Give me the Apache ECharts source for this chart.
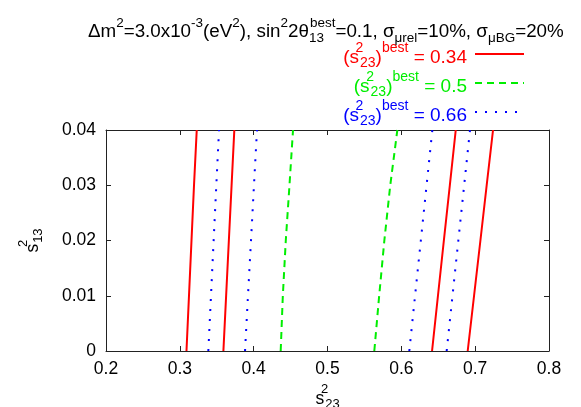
<!DOCTYPE html>
<html><head><meta charset="utf-8">
<script src="https://cdn.jsdelivr.net/npm/echarts@6/dist/echarts.min.js"></script>
<style>html,body{margin:0;padding:0;background:#fff}#c{width:581px;height:407px}</style>
</head><body><div id="c"></div>
<script>
const s13 = [0, 0.01, 0.02, 0.03, 0.04];
const red034a = [0.3090, 0.3124, 0.3158, 0.3192, 0.3229];
const red034b = [0.3590, 0.3627, 0.3664, 0.3701, 0.3738];
const red034c = [0.6416, 0.6496, 0.6576, 0.6657, 0.6737];
const red034d = [0.6899, 0.6985, 0.7071, 0.7156, 0.7242];
const green05a = [0.4366, 0.4395, 0.4435, 0.4485, 0.4533];
const green05b = [0.5634, 0.5700, 0.5770, 0.5850, 0.5946];
const blue066a = [0.3386, 0.3422, 0.3458, 0.3494, 0.3531];
const blue066b = [0.3883, 0.3923, 0.3964, 0.4004, 0.4045];
const blue066c = [0.6108, 0.6186, 0.6264, 0.6342, 0.6420];
const blue066d = [0.6614, 0.6693, 0.6772, 0.6851, 0.6930];
const xTicks = [0.2, 0.3, 0.4, 0.5, 0.6, 0.7, 0.8];
const yTicks = [0, 0.01, 0.02, 0.03, 0.04];
const names = ['0.34', '0.5', '0.66'];

const FONT = '"Liberation Sans", Arial, Helvetica, sans-serif';
const pts = xs => xs.map((x, i) => [x, s13[i]]);
const styles = {
  '0.34': {color: '#ff0000', type: 'solid', width: 2},
  '0.5': {color: '#00ee00', type: [7, 5], width: 2},
  '0.66': {color: '#0000ff', type: [2, 8], width: 2, cap: 'butt'}
};
const mk = (name, xs) => ({
  name, type: 'line', data: pts(xs), showSymbol: false, symbol: 'none',
  lineStyle: styles[name], itemStyle: {color: styles[name].color}, animation: false, z: 3
});
const series = [
  mk('0.34', red034a), mk('0.34', red034b), mk('0.34', red034c), mk('0.34', red034d),
  mk('0.5', green05a), mk('0.5', green05b),
  mk('0.66', blue066a), mk('0.66', blue066b), mk('0.66', blue066c), mk('0.66', blue066d)
];

function richSet(c, big, small) {
  const base = {color: c, fontFamily: FONT, fontWeight: 'normal', verticalAlign: 'bottom', lineHeight: 26};
  return {
    n: Object.assign({}, base, {fontSize: big}),
    sup: Object.assign({}, base, {fontSize: small, width: 1, align: 'left', padding: [0, 0, 12, 0]}),
    sub: Object.assign({}, base, {fontSize: small, padding: [0, 0, -3, 0]}),
    sup2: Object.assign({}, base, {fontSize: small, padding: [0, 0, 12, 0]})
  };
}
const legendColors = {'0.34': '#ff0000', '0.5': '#00ee00', '0.66': '#0000ff'};
const legendKey = {'0.34': 'r', '0.5': 'g', '0.66': 'b'};
const rich = {};
for (const n of names) {
  const r = richSet(legendColors[n], 19, 14);
  for (const k in r) rich[legendKey[n] + k] = r[k];
}
const axisRich = richSet('#000', 17.5, 13);
const tBase = {color: '#000', fontFamily: FONT, fontWeight: 'normal', verticalAlign: 'bottom', lineHeight: 30};

const chart = echarts.init(document.getElementById('c'), null, {renderer: 'canvas'});
chart.setOption({
  animation: false,
  textStyle: {fontFamily: FONT},
  title: {
    left: 83, top: 6,
    text: '{n|Δm}{s|2}{n|=3.0x10}{s|-3}{n|(eV}{s|2}{n|), sin}{s|2}{n|2θ}{b|13}{s|best}{n|=0.1, σ}{u|μrel}{n|=10%, σ}{u|μBG}{n|=20%}',
    textStyle: {
      fontWeight: 'normal',
      rich: {
        n: Object.assign({}, tBase, {fontSize: 18.8}),
        s: Object.assign({}, tBase, {fontSize: 13.5, padding: [0, 0, 11, 0]}),
        b: Object.assign({}, tBase, {fontSize: 13.5, padding: [0, 0, -4, 0], width: 1, align: 'left'}),
        u: Object.assign({}, tBase, {fontSize: 13.5, padding: [0, 0, -4, 0]})
      }
    }
  },
  legend: {
    orient: 'vertical', right: 51, top: 36, align: 'right', itemGap: 0,
    itemWidth: 49, itemHeight: 14,
    itemStyle: {opacity: 0, borderWidth: 0},
    data: names,
    formatter: n => {
      const k = legendKey[n];
      return `{${k}n|(s}{${k}sup|2}{${k}sub|23}{${k}n|)}{${k}sup2|best}{${k}n| = ${n}}`;
    },
    textStyle: {rich, padding: [0, 3, 0, 0]}
  },
  grid: {left: 106, right: 32, top: 130, bottom: 56, containLabel: false, outerBoundsMode: 'none'},
  xAxis: [{
    type: 'value', min: 0.2, max: 0.8, interval: 0.1,
    name: '{n|s}{sup|2}{sub|23}', nameLocation: 'middle', nameGap: 25,
    nameTextStyle: {rich: axisRich},
    axisLine: {show: true, onZero: false, lineStyle: {color: '#222', width: 1}},
    axisTick: {show: true, inside: true, length: 5, lineStyle: {color: '#222'}},
    axisLabel: {fontSize: 17.5, color: '#000', margin: 9, fontFamily: FONT,
      formatter: v => { const t = xTicks.find(a => Math.abs(a - v) < 1e-9); return t === undefined ? '' : String(t); }},
    splitLine: {show: false}
  }, {
    type: 'value', min: 0.2, max: 0.8, interval: 0.1, position: 'top',
    axisLine: {show: true, onZero: false, lineStyle: {color: '#222', width: 1}},
    axisTick: {show: true, inside: true, length: 5, lineStyle: {color: '#222'}},
    axisLabel: {show: false}, splitLine: {show: false}
  }],
  yAxis: [{
    type: 'value', min: 0, max: 0.04, interval: 0.01,
    name: '{n|s}{sup|2}{sub|13}', nameLocation: 'middle', nameGap: 64, nameRotate: 90,
    nameTextStyle: {rich: axisRich},
    axisLine: {show: true, onZero: false, lineStyle: {color: '#222', width: 1}},
    axisTick: {show: true, inside: true, length: 5, lineStyle: {color: '#222'}},
    axisLabel: {fontSize: 17.5, color: '#000', margin: 10, fontFamily: FONT,
      formatter: v => { const t = yTicks.find(a => Math.abs(a - v) < 1e-9); return t === undefined ? '' : String(t); }},
    splitLine: {show: false}
  }, {
    type: 'value', min: 0, max: 0.04, interval: 0.01, position: 'right',
    axisLine: {show: true, onZero: false, lineStyle: {color: '#222', width: 1}},
    axisTick: {show: true, inside: true, length: 5, lineStyle: {color: '#222'}},
    axisLabel: {show: false}, splitLine: {show: false}
  }],
  series
});
</script></body></html>
